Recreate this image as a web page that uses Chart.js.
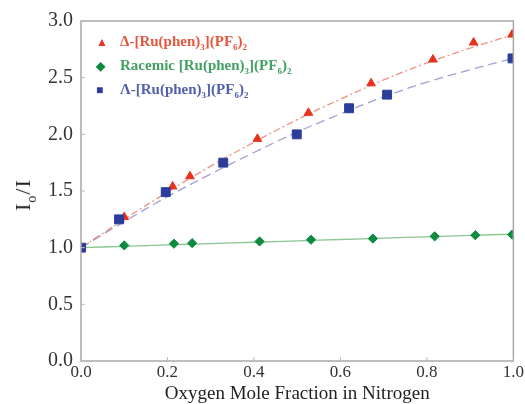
<!DOCTYPE html>
<html>
<head>
<meta charset="utf-8">
<script src="https://cdn.jsdelivr.net/npm/chart.js@4"></script>
<style>
  body { margin: 0; background: #fff; }
  #wrap { position: relative; width: 525px; height: 404px; }
  #legend { position: absolute; left: 96px; top: 30px; font-family: "Liberation Serif", serif; font-weight: bold; font-size: 15px; line-height: 23px; }
  #legend div { white-space: nowrap; }
  #legend span.m { display: inline-block; width: 24px; text-align: left; font-size: 12px; }
  #legend sub { font-size: 9px; vertical-align: -4px; line-height: 0; }
  #ytitle { position: absolute; left: 23px; top: 195px; transform: translate(-50%, -50%) rotate(-90deg); font-family: "Liberation Serif", serif; font-size: 22px; letter-spacing: 1px; color: #222; white-space: nowrap; }
  #ytitle sub { font-size: 14px; vertical-align: -6px; line-height: 0; }
</style>
</head>
<body>
<div id="wrap">
  <canvas id="chart" width="525" height="404"></canvas>
  <div id="ytitle">I<sub>o</sub>/I</div>
  <div id="legend">
    <div style="color:#e4573f"><span class="m" style="color:#e8321e">&#9650;</span>&Delta;-[Ru(phen)<sub>3</sub>](PF<sub>6</sub>)<sub>2</sub></div>
    <div style="color:#43a063"><span class="m" style="color:#0c8a3e">&#9670;</span>Racemic [Ru(phen)<sub>3</sub>](PF<sub>6</sub>)<sub>2</sub></div>
    <div style="color:#5260ac"><span class="m" style="color:#2a3d9a">&#9632;</span>&Lambda;-[Ru(phen)<sub>3</sub>](PF<sub>6</sub>)<sub>2</sub></div>
  </div>
</div>
<script>
// measured points
const deltaX = [0, 0.10, 0.212, 0.252, 0.408, 0.526, 0.671, 0.814, 0.908, 0.997];
const deltaY = [1.0, 1.27, 1.54, 1.63, 1.96, 2.19, 2.45, 2.66, 2.81, 2.88];

const racemicX = [0, 0.10, 0.215, 0.257, 0.413, 0.532, 0.675, 0.818, 0.912, 0.997];
const racemicY = [1.0, 1.02, 1.035, 1.04, 1.055, 1.07, 1.08, 1.10, 1.11, 1.115];

const lambdaX = [0, 0.088, 0.196, 0.329, 0.499, 0.62, 0.708, 0.998];
const lambdaY = [1.0, 1.25, 1.49, 1.75, 2.00, 2.23, 2.35, 2.67];

// fit curves
const fitX = [0, 0.1, 0.2, 0.3, 0.4, 0.5, 0.6, 0.7, 0.8, 0.9, 1.0];
const deltaFit = [1.0, 1.25, 1.49, 1.72, 1.93, 2.13, 2.31, 2.48, 2.63, 2.76, 2.88];
const lambdaFit = [1.0, 1.23, 1.45, 1.65, 1.84, 2.02, 2.18, 2.33, 2.46, 2.57, 2.67];
const racemicFit = [1.0, 1.012, 1.024, 1.036, 1.048, 1.06, 1.072, 1.084, 1.096, 1.108, 1.12];

const xTicks = [0, 0.2, 0.4, 0.6, 0.8, 1.0];
const yTicks = [0, 0.5, 1.0, 1.5, 2.0, 2.5, 3.0];

const pts = (xs, ys) => xs.map((x, i) => ({ x: x, y: ys[i] }));

const serif = "'Liberation Serif', 'Times New Roman', serif";

// box + inward tick marks
const framePlugin = {
  id: 'frame',
  afterDraw(chart) {
    const { ctx, chartArea: a, scales } = chart;
    ctx.save();
    ctx.strokeStyle = '#a8a8a8';
    ctx.lineWidth = 1.5;
    ctx.strokeRect(a.left, a.top, a.right - a.left, a.bottom - a.top);
    ctx.lineWidth = 1;
    ctx.strokeStyle = '#bbb';
    xTicks.forEach(v => {
      const px = scales.x.getPixelForValue(v);
      ctx.beginPath(); ctx.moveTo(px, a.bottom); ctx.lineTo(px, a.bottom - 4); ctx.stroke();
    });
    yTicks.forEach(v => {
      const py = scales.y.getPixelForValue(v);
      ctx.beginPath(); ctx.moveTo(a.left, py); ctx.lineTo(a.left + 4, py); ctx.stroke();
    });
    ctx.restore();
  }
};

new Chart(document.getElementById('chart'), {
  type: 'scatter',
  data: {
    datasets: [
      { data: pts(fitX, racemicFit), showLine: true, pointRadius: 0, borderColor: 'rgba(110,185,120,0.8)', borderWidth: 1.3, tension: 0.4, order: 3 },
      { data: pts(fitX, deltaFit), showLine: true, pointRadius: 0, borderColor: 'rgba(232,110,90,0.75)', borderWidth: 1.3, borderDash: [7, 3, 2, 3], tension: 0.4, order: 3 },
      { data: pts(fitX, lambdaFit), showLine: true, pointRadius: 0, borderColor: 'rgba(140,135,200,0.8)', borderWidth: 1.3, borderDash: [9, 5], tension: 0.4, order: 3 },
      { data: pts(racemicX, racemicY), pointStyle: 'rectRot', pointRadius: 4.6, backgroundColor: '#0c8a3e', borderColor: '#0c8a3e', order: 2 },
      { data: pts(deltaX, deltaY), pointStyle: 'triangle', pointRadius: 5, backgroundColor: '#e8321e', borderColor: '#e8321e', order: 1 },
      { data: pts(lambdaX, lambdaY), pointStyle: 'rect', pointRadius: 6.3, backgroundColor: '#2a3d9a', borderColor: '#2a3d9a', order: 0 }
    ]
  },
  options: {
    responsive: false,
    animation: false,
    layout: { padding: { top: 21, right: 10, left: 0, bottom: 0 } },
    plugins: { legend: { display: false }, tooltip: { enabled: false } },
    scales: {
      x: {
        type: 'linear', min: 0, max: 1,
        afterFit: s => { s.height = 43; },
        afterBuildTicks: s => { s.ticks = xTicks.map(v => ({ value: v })); },
        grid: { display: false, drawTicks: false },
        border: { display: false },
        ticks: { color: '#333', padding: 1, font: { family: serif, size: 17 }, callback: v => v.toFixed(1) },
        title: { display: true, text: 'Oxygen Mole Fraction in Nitrogen', color: '#222', padding: { top: 0, bottom: 0 }, font: { family: serif, size: 19, lineHeight: 1.1 } }
      },
      y: {
        type: 'linear', min: 0, max: 3,
        afterFit: s => { s.width = 81; },
        afterBuildTicks: s => { s.ticks = yTicks.map(v => ({ value: v })); },
        grid: { display: false, drawTicks: false },
        border: { display: false },
        ticks: { color: '#333', padding: 8, font: { family: serif, size: 20 }, callback: v => v.toFixed(1) }
      }
    }
  },
  plugins: [framePlugin]
});
</script>
</body>
</html>
